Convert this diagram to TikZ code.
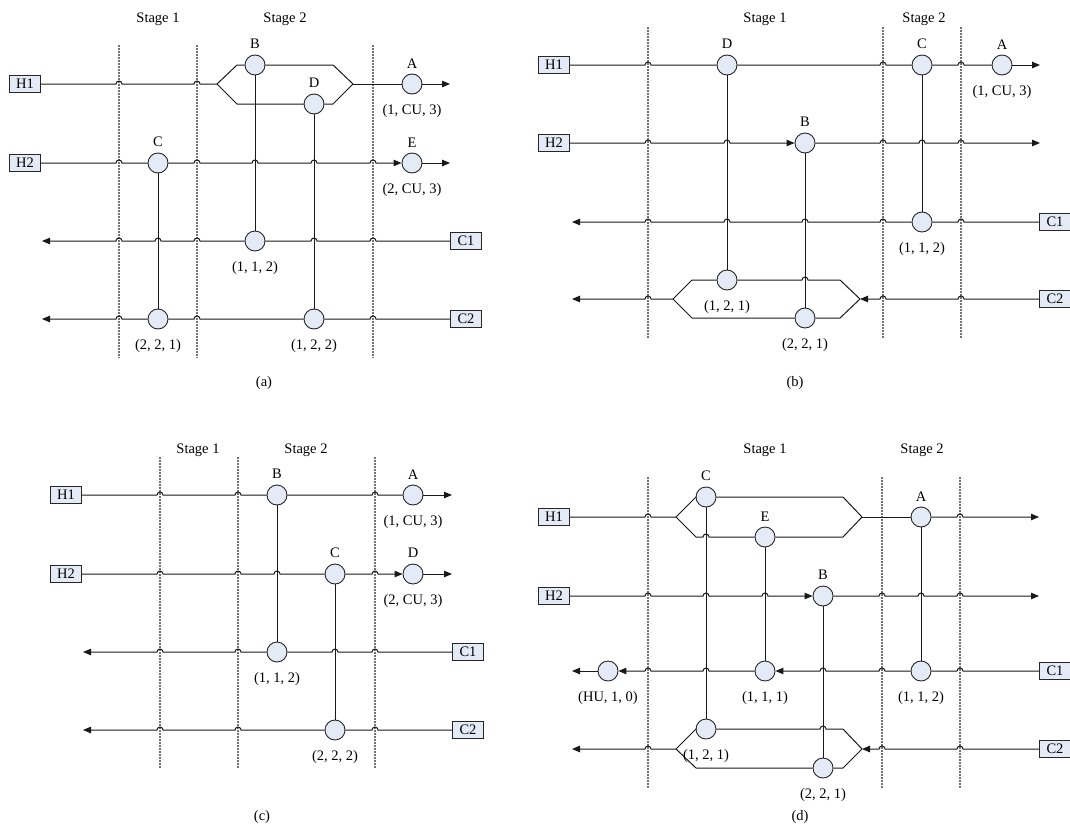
\documentclass[tikz,border=0pt]{standalone}
\usepackage{fontspec}
\setmainfont{Liberation Serif}
\usetikzlibrary{arrows.meta}
\definecolor{hxfill}{HTML}{E4EBF6}
\newcommand\hopr[2]{foreach \h in {#1}{-- (\h-3,#2) arc[start angle=180,end angle=0,radius=3pt]}}
\newcommand\hopl[2]{foreach \h in {#1}{-- (\h+3,#2) arc[start angle=0,end angle=180,radius=3pt]}}
\begin{document}
\begin{tikzpicture}[x=1pt,y=-1pt,font=\fontsize{14.5}{17}\selectfont,
  dline/.style={draw=black!55,line width=1.1pt,dash pattern=on 2pt off 1pt},
  flow/.style={draw=black!90,line width=1pt},
  tip/.style={-{Triangle[length=8pt,width=6.5pt]}},
  hx/.style={circle,draw=black!85,line width=0.9pt,fill=hxfill,minimum size=20pt,inner sep=0pt},
  strm/.style={draw=black!85,line width=0.9pt,fill=hxfill,minimum width=31pt,minimum height=17pt,inner sep=0pt},
  lab/.style={inner sep=0pt},
  lt/.style={label distance=2pt},
  lb/.style={label distance=6pt}]
\useasboundingbox (0,0) rectangle (1070,827);

% ================= (a) =================
\foreach \x in {119,197,373} \draw[dline] (\x,45) -- (\x,358);
\node[lab] (aS1) at (158,19) {Stage 1};
\node[lab] (aS2) at (285,19) {Stage 2};
\node[lab] (acap) at (264,383) {(a)};
\node[strm] (aH1) at (25,84) {H1};
\node[strm] (aH2) at (25,163) {H2};
\node[strm] (aC1) at (466,241) {C1};
\node[strm] (aC2) at (466,319) {C2};
\node[hx,label={[lt]above:B}] (aB) at (255,65) {};
\node[hx,label={[lt]above:D}] (aD) at (314,104) {};
\node[hx,label={[lt]above:A},label={[lb]below:{(1, CU, 3)}}] (aA) at (412,84) {};
\node[hx,label={[lt]above:E},label={[lb]below:{(2, CU, 3)}}] (aE) at (412,163) {};
\node[hx,label={[lt]above:C}] (aC) at (158,163) {};
\node[hx,label={[lb]below:{(1, 1, 2)}}] (a112) at (255,241) {};
\node[hx,label={[lb]below:{(2, 2, 1)}}] (a221) at (158,319) {};
\node[hx,label={[lb]below:{(1, 2, 2)}}] (a122) at (314,319) {};
\coordinate (aSL) at (217,84);
\coordinate (aSR) at (353,84);
\coordinate (aH1e) at (450,84);
\coordinate (aH2e) at (450,163);
\coordinate (aC1e) at (42,241);
\coordinate (aC2e) at (42,319);
\draw[flow] (aH1.east) \hopr{119,197}{84} -- (aSL);
\draw[flow] (aSL) -- (237,65) -- (aB.west);
\draw[flow] (aB.east) -- (333,65) -- (aSR);
\draw[flow] (aSL) -- (237,104) -- (aD.west);
\draw[flow] (aD.east) -- (333,104) -- (aSR);
\draw[flow] (aSR) -- (aA.west);
\draw[flow,tip] (aA.east) -- (aH1e);
\draw[flow] (aH2.east) \hopr{119}{163} -- (aC.west);
\draw[flow,tip] (aC.east) \hopr{197,255,314,373}{163} -- (aE.west);
\draw[flow,tip] (aE.east) -- (aH2e);
\draw[flow] (aC1.west) \hopl{373,314}{241} -- (a112.east);
\draw[flow,tip] (a112.west) \hopl{197,158,119}{241} -- (aC1e);
\draw[flow] (aC2.west) \hopl{373}{319} -- (a122.east);
\draw[flow] (a122.west) \hopl{197}{319} -- (a221.east);
\draw[flow,tip] (a221.west) \hopl{119}{319} -- (aC2e);
\draw[flow] (aB) -- (a112);
\draw[flow] (aD) -- (a122);
\draw[flow] (aC) -- (a221);

% ================= (b) =================
\foreach \x in {648,883,961} \draw[dline] (\x,27) -- (\x,338);
\node[lab] (bS1) at (765,19) {Stage 1};
\node[lab] (bS2) at (924,19) {Stage 2};
\node[lab] (bcap) at (795,383) {(b)};
\node[strm] (bH1) at (554,65) {H1};
\node[strm] (bH2) at (554,143) {H2};
\node[strm] (bC1) at (1055,222) {C1};
\node[strm] (bC2) at (1055,299) {C2};
\node[hx,label={[lt]above:D}] (bD) at (727,65) {};
\node[hx,label={[lt]above:C}] (bC) at (922,65) {};
\node[hx,label={[lt]above:A},label={[lb]below:{(1, CU, 3)}}] (bA) at (1002,65) {};
\node[hx,label={[lt]above:B}] (bB) at (805,143) {};
\node[hx,label={[lb]below:{(1, 1, 2)}}] (b112) at (922,222) {};
\node[hx,label={[lb]below:{(1, 2, 1)}}] (b121) at (727,280) {};
\node[hx,label={[lb]below:{(2, 2, 1)}}] (b221) at (805,318) {};
\coordinate (bSL) at (673,299);
\coordinate (bSR) at (860,299);
\coordinate (bH1e) at (1040,65);
\coordinate (bH2e) at (1040,143);
\coordinate (bC1e) at (572,222);
\coordinate (bC2e) at (572,299);
\draw[flow] (bH1.east) \hopr{648}{65} -- (bD.west);
\draw[flow] (bD.east) \hopr{883}{65} -- (bC.west);
\draw[flow] (bC.east) \hopr{961}{65} -- (bA.west);
\draw[flow,tip] (bA.east) -- (bH1e);
\draw[flow,tip] (bH2.east) \hopr{648,727}{143} -- (bB.west);
\draw[flow,tip] (bB.east) \hopr{883,922,961}{143} -- (bH2e);
\draw[flow] (bC1.west) \hopl{961}{222} -- (b112.east);
\draw[flow,tip] (b112.west) \hopl{883,805,727,648}{222} -- (bC1e);
\draw[flow,tip] (bC2.west) \hopl{961,883}{299} -- (bSR);
\draw[flow] (bSR) -- (840,280) \hopl{805}{280} -- (b121.east);
\draw[flow] (b121.west) -- (692,280) -- (bSL);
\draw[flow] (bSR) -- (840,318) -- (b221.east);
\draw[flow] (b221.west) -- (692,318) -- (bSL);
\draw[flow,tip] (bSL) \hopl{648}{299} -- (bC2e);
\draw[flow] (bD) -- (b121);
\draw[flow] (bB) -- (b221);
\draw[flow] (bC) -- (b112);

% ================= (c) =================
\foreach \x in {160,238,375} \draw[dline] (\x,457) -- (\x,768);
\node[lab] (cS1) at (198,450) {Stage 1};
\node[lab] (cS2) at (306,450) {Stage 2};
\node[lab] (ccap) at (262,817) {(c)};
\node[strm] (cH1) at (66,495) {H1};
\node[strm] (cH2) at (66,574) {H2};
\node[strm] (cC1) at (468,652) {C1};
\node[strm] (cC2) at (468,730) {C2};
\node[hx,label={[lt]above:B}] (cB) at (277,495) {};
\node[hx,label={[lt]above:A},label={[lb]below:{(1, CU, 3)}}] (cA) at (413,495) {};
\node[hx,label={[lt]above:C}] (cC) at (335,574) {};
\node[hx,label={[lt]above:D},label={[lb]below:{(2, CU, 3)}}] (cD) at (413,574) {};
\node[hx,label={[lb]below:{(1, 1, 2)}}] (c112) at (277,652) {};
\node[hx,label={[lb]below:{(2, 2, 2)}}] (c222) at (335,730) {};
\coordinate (cH1e) at (452,495);
\coordinate (cH2e) at (452,574);
\coordinate (cC1e) at (83,652);
\coordinate (cC2e) at (83,730);
\draw[flow] (cH1.east) \hopr{160,238}{495} -- (cB.west);
\draw[flow] (cB.east) \hopr{375}{495} -- (cA.west);
\draw[flow,tip] (cA.east) -- (cH1e);
\draw[flow] (cH2.east) \hopr{160,238,277}{574} -- (cC.west);
\draw[flow,tip] (cC.east) \hopr{375}{574} -- (cD.west);
\draw[flow,tip] (cD.east) -- (cH2e);
\draw[flow] (cC1.west) \hopl{375,335}{652} -- (c112.east);
\draw[flow,tip] (c112.west) \hopl{238,160}{652} -- (cC1e);
\draw[flow] (cC2.west) \hopl{375}{730} -- (c222.east);
\draw[flow,tip] (c222.west) \hopl{238,160}{730} -- (cC2e);
\draw[flow] (cB) -- (c112);
\draw[flow] (cC) -- (c222);

% ================= (d) =================
\foreach \x in {648,882,960} \draw[dline] (\x,477) -- (\x,788);
\node[lab] (dS1) at (765,450) {Stage 1};
\node[lab] (dS2) at (922,450) {Stage 2};
\node[lab] (dcap) at (800,817) {(d)};
\node[strm] (dH1) at (554,517) {H1};
\node[strm] (dH2) at (554,596) {H2};
\node[strm] (dC1) at (1055,671) {C1};
\node[strm] (dC2) at (1055,749) {C2};
\node[hx,label={[lt]above:C}] (dC) at (706,497) {};
\node[hx,label={[lt]above:E}] (dE) at (765,537) {};
\node[hx,label={[lt]above:A}] (dA) at (921,517) {};
\node[hx,label={[lt]above:B}] (dB) at (823,596) {};
\node[hx,label={[lb]below:{(HU, 1, 0)}}] (dD) at (608,671) {};
\node[hx,label={[lb]below:{(1, 1, 1)}}] (d111) at (765,671) {};
\node[hx,label={[lb]below:{(1, 1, 2)}}] (d112) at (921,671) {};
\node[hx,label={[lb]below:{(1, 2, 1)}}] (d121) at (706,729) {};
\node[hx,label={[lb]below:{(2, 2, 1)}}] (d221) at (823,768) {};
\coordinate (dSL1) at (676,517);
\coordinate (dSR1) at (862,517);
\coordinate (dSL2) at (676,749);
\coordinate (dSR2) at (862,749);
\coordinate (dH1e) at (1039,517);
\coordinate (dH2e) at (1039,596);
\coordinate (dC1e) at (572,671);
\coordinate (dC2e) at (572,749);
\draw[flow] (dH1.east) \hopr{648}{517} -- (dSL1);
\draw[flow] (dSL1) -- (696,497) -- (dC.west);
\draw[flow] (dC.east) -- (843,497) -- (dSR1);
\draw[flow] (dSL1) -- (696,537) \hopr{706}{537} -- (dE.west);
\draw[flow] (dE.east) -- (843,537) -- (dSR1);
\draw[flow] (dSR1) -- (dA.west);
\draw[flow,tip] (dA.east) \hopr{960}{517} -- (dH1e);
\draw[flow,tip] (dH2.east) \hopr{648,706,765}{596} -- (dB.west);
\draw[flow,tip] (dB.east) \hopr{882,921,960}{596} -- (dH2e);
\draw[flow] (dC1.west) \hopl{960}{671} -- (d112.east);
\draw[flow,tip] (d112.west) \hopl{882,823}{671} -- (d111.east);
\draw[flow,tip] (d111.west) \hopl{706,648}{671} -- (dD.east);
\draw[flow,tip] (dD.west) -- (dC1e);
\draw[flow,tip] (dC2.west) \hopl{960,882}{749} -- (dSR2);
\draw[flow] (dSR2) -- (843,729) \hopl{823}{729} -- (d121.east);
\draw[flow] (d121.west) -- (696,729) -- (dSL2);
\draw[flow] (dSR2) -- (843,768) -- (d221.east);
\draw[flow] (d221.west) -- (696,768) -- (dSL2);
\draw[flow,tip] (dSL2) \hopl{648}{749} -- (dC2e);
\draw[flow] (dC) -- (d121);
\draw[flow] (dE) -- (d111);
\draw[flow] (dB) -- (d221);
\draw[flow] (dA) -- (d112);
\end{tikzpicture}
\end{document}
